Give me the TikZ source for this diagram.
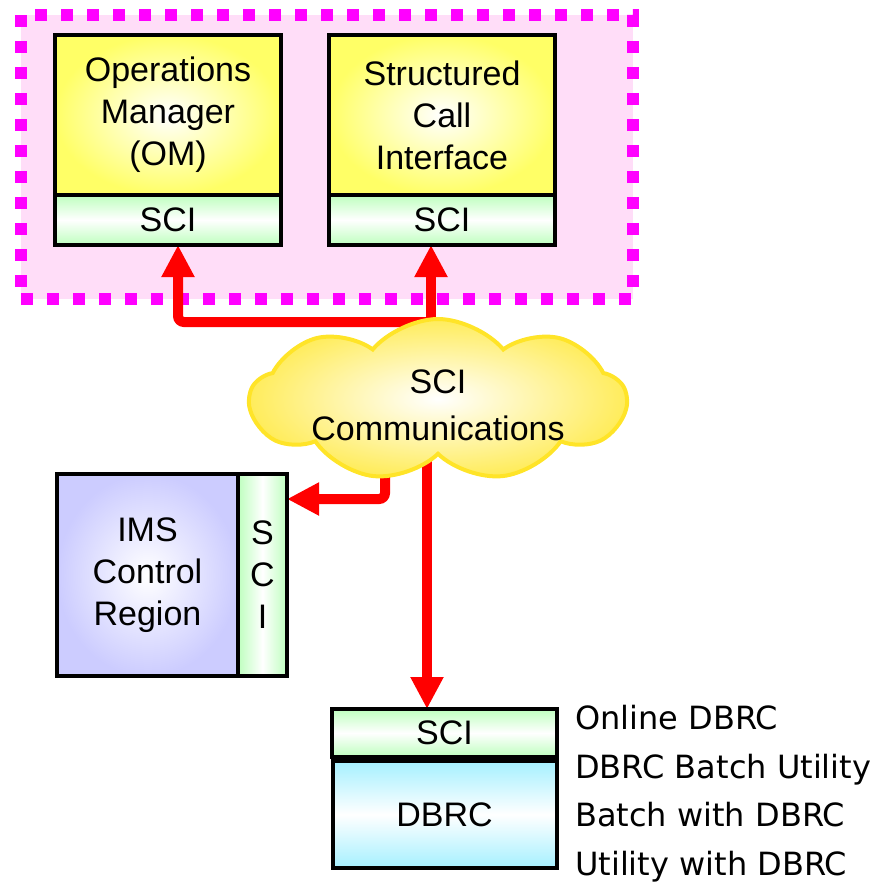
\documentclass[tikz,border=0pt]{standalone}
\usepackage{fontspec}
\setmainfont{Liberation Sans}
\newfontfamily\notefont{DejaVu Sans}
\usetikzlibrary{positioning}
\usetikzlibrary{shapes.symbols}
\usetikzlibrary{arrows.meta}
\definecolor{grouppink}{RGB}{255,221,248}
\definecolor{groupmagenta}{RGB}{255,0,255}
\definecolor{appyellow}{RGB}{255,255,102}
\definecolor{scigreen}{RGB}{190,255,190}
\definecolor{imsblue}{RGB}{204,204,255}
\definecolor{dbrccyan}{RGB}{165,240,255}
\definecolor{cloudyellow}{RGB}{255,236,90}
\definecolor{cloudedge}{RGB}{255,228,40}
\pgfdeclarelayer{back}
\pgfdeclarelayer{mid}
\pgfsetlayers{back,mid,main}
\tikzset{
  boxtext/.style={font=\fontsize{34}{42}\selectfont, align=center, inner sep=0pt, outer sep=0pt},
  appbox/.style={boxtext, draw, line width=4pt, inner color=white, outer color=appyellow, minimum width=226pt, minimum height=160pt},
  scistrip/.style={boxtext, draw, line width=4pt, top color=scigreen, bottom color=scigreen, middle color=white, minimum width=226pt, minimum height=50pt},
  sciside/.style={boxtext, draw, line width=4pt, left color=scigreen, right color=scigreen, middle color=white, minimum width=49pt, minimum height=202pt},
  imsbox/.style={boxtext, draw, line width=4pt, inner color=white, outer color=imsblue, minimum width=181pt, minimum height=202pt},
  dbrcbox/.style={boxtext, draw, line width=4pt, top color=dbrccyan, bottom color=dbrccyan, middle color=white, minimum width=224pt, minimum height=107pt},
  sciarrow/.style={draw=red, line width=10pt, -{Triangle[length=32pt,width=31pt]}},
}
\newcommand\cloudtext[1]{\smash{\makebox[0pt]{\raisebox{-14pt}{\begin{tabular}{@{}c@{}}#1\end{tabular}}}}}
\begin{document}
\begin{tikzpicture}[x=1pt,y=-1pt]
\useasboundingbox (0,0) rectangle (884,884);
% the group round OM and SCI
\begin{pgfonlayer}{back}
\node (group) [draw=groupmagenta, fill=grouppink, line width=12pt, dash pattern=on 12pt off 14pt, minimum width=612pt, minimum height=284pt] at (327,157) {};
\end{pgfonlayer}
% applications
\node (om) [appbox] at (168,115) {Operations\\Manager\\(OM)};
\node (omsci) [scistrip, below=0pt of om] {SCI};
\node (sci) [appbox] at (442,115) {Structured\\Call\\Interface};
\node (scisci) [scistrip, below=0pt of sci] {SCI};
% control region
\node (ims) [imsbox] at (147.5,575) {IMS\\Control\\Region};
\node (imssci) [sciside, right=0pt of ims] {S\\C\\I};
% communications
\node (scicomm) [cloud, cloud puffs=9, cloud puff arc=100, draw=cloudedge, line width=4pt, inner color=white, outer color=cloudyellow, inner sep=0pt, minimum width=376pt, minimum height=162pt, font=\fontsize{34}{47}\selectfont] at (438,400) {\cloudtext{SCI\\Communications}};
% DBRC
\node (dbrcsci) [scistrip, minimum width=225pt, minimum height=48pt] at (444.5,733) {SCI};
\node (dbrc) [dbrcbox, below=4pt of dbrcsci] {DBRC};
\node (uses) [anchor=north west, align=left, inner sep=0pt, font=\notefont\fontsize{32}{48.5}\selectfont] at (575,705) {Online DBRC\\DBRC Batch Utility\\Batch with DBRC\\Utility with DBRC};
% connectors
\begin{pgfonlayer}{mid}
\coordinate (omin) at ([xshift=10pt]omsci.south);
\coordinate (sciin) at ([xshift=-11pt]scisci.south);
\coordinate (imsin) at ([yshift=-25pt]imssci.north east);
\coordinate (dbrcin) at ([xshift=-17.5pt]dbrcsci.north);
\draw[sciarrow] (sciin |- scicomm.center) -- (sciin);
\draw[sciarrow, rounded corners=6pt] (sciin |- scicomm.center) |- (178,322) -- (omin);
\draw[sciarrow, rounded corners=6pt] ([xshift=-53pt]scicomm.center) |- (imsin);
\draw[sciarrow] (dbrcin |- scicomm.center) -- (dbrcin);
\end{pgfonlayer}
\end{tikzpicture}
\end{document}
